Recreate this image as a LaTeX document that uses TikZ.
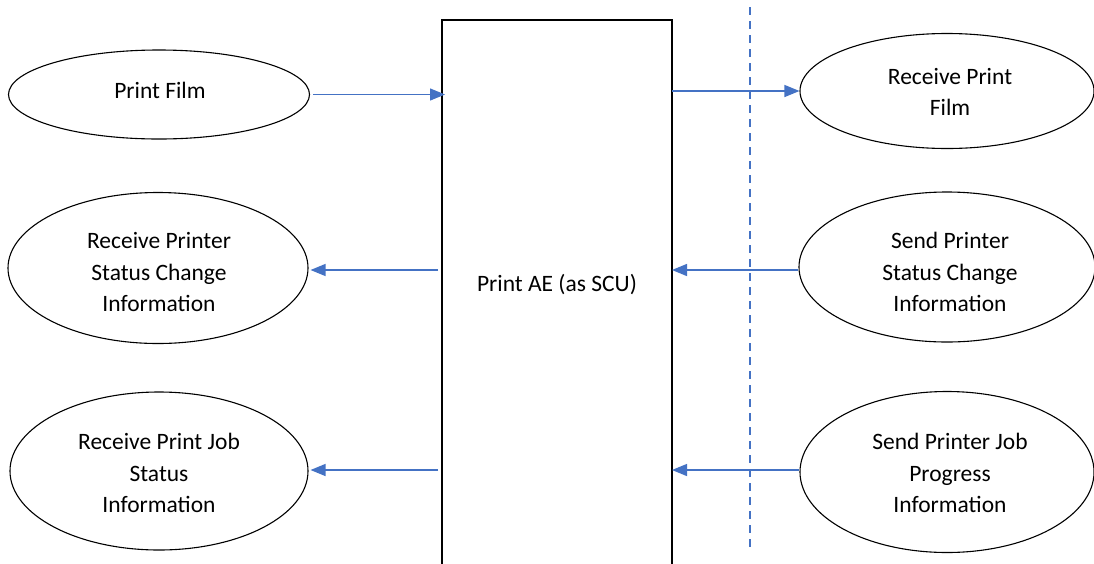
\documentclass[tikz,border=0pt]{standalone}
\usepackage{fontspec}
\setmainfont{Carlito}
\usetikzlibrary{arrows.meta,shapes.geometric}
\definecolor{arrblue}{HTML}{4472C4}
\begin{document}
\begin{tikzpicture}[x=1pt,y=1pt,
  ell/.style={draw=black, line width=1.1pt, ellipse, inner sep=0pt},
  txt/.style={align=center, inner sep=0pt, font=\fontsize{23.5}{31.8}\selectfont},
  arr/.style={draw=arrblue, line width=1.3pt, -{Triangle[length=15pt,width=12pt]}},
  sep/.style={draw=arrblue, line width=1.6pt, dash pattern=on 8pt off 6pt}]
\useasboundingbox (0,0) rectangle (1094,-563);
\fill[white] (0,0) rectangle (1094,-563);
% central box
\draw[line width=1.6pt] (672,-600) -- (672,-20) -- (442,-20) -- (442,-600);
\coordinate (boxW) at (442,-285);
\coordinate (boxE) at (672,-285);
\node[txt] (box) at (557,-285) {Print AE (as SCU)};
% separator
\coordinate (s1) at (750,-7);
\coordinate (s2) at (750,-548);
\draw[sep] (s1) -- (s2);
% left ellipses
\node[ell, minimum width=301pt, minimum height=89pt] (pf) at (159,-94.5) {};
\node[txt] (pft) at (160,-90) {Print Film};
\node[ell, minimum width=300pt, minimum height=151pt] (rpsc) at (158,-268) {};
\node[txt] (rpsct) at (159,-272) {Receive Printer\\Status Change\\Information};
\node[ell, minimum width=298pt, minimum height=158pt] (rpjs) at (159,-471) {};
\node[txt] (rpjst) at (159,-473) {Receive Print Job\\Status\\Information};
% right ellipses
\node[ell, minimum width=294pt, minimum height=115pt] (rpf) at (947,-91) {};
\node[txt] (rpft) at (950,-92) {Receive Print\\Film};
\node[ell, minimum width=296pt, minimum height=150pt] (spsc) at (947,-267) {};
\node[txt] (spsct) at (950,-272) {Send Printer\\Status Change\\Information};
\node[ell, minimum width=294pt, minimum height=161pt] (spjp) at (947,-472) {};
\node[txt] (spjpt) at (950,-473) {Send Printer Job\\Progress\\Information};
% arrows
\draw[arr] ([xshift=3pt]pf.east) -- ([xshift=3pt]pf.east -| boxW);
\draw[arr] (rpf.west -| boxE) -- (rpf.west);
\draw[arr] ([xshift=-4pt,yshift=-2pt]rpsc.east -| boxW) -- ([xshift=2pt,yshift=-2pt]rpsc.east);
\draw[arr] ([xshift=-4pt,yshift=1pt]rpjs.east -| boxW) -- ([xshift=2pt,yshift=1pt]rpjs.east);
\draw[arr] ([yshift=-3pt]spsc.west) -- ([yshift=-3pt]spsc.west -| boxE);
\draw[arr] ([yshift=2pt]spjp.west) -- ([yshift=2pt]spjp.west -| boxE);
\end{tikzpicture}
\end{document}
